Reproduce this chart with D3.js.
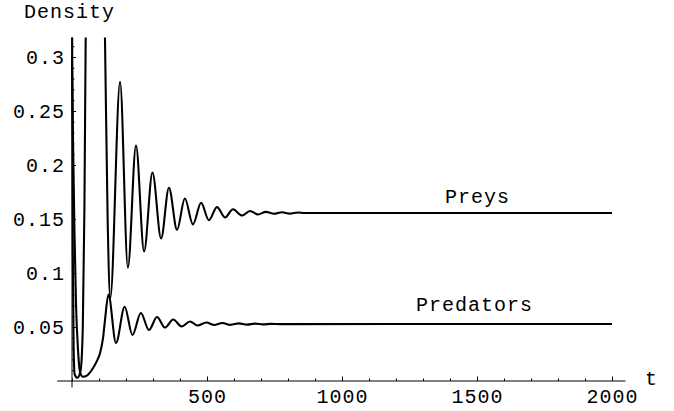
<!DOCTYPE html>
<html>
<head>
<meta charset="utf-8">
<script src="https://cdn.jsdelivr.net/npm/d3@7"></script>
<style>
  html, body { margin: 0; padding: 0; background: #fff; }
  svg { display: block; }
  text { font-family: "Liberation Mono", "DejaVu Sans Mono", monospace; font-size: 20px; letter-spacing: 1px; fill: #000; }
</style>
</head>
<body>
<div id="chart"></div>
<script>
// ---- data ----
const preyT = [0, 3, 6, 10, 20, 32, 40, 46, 52, 85, 122, 132, 142, 178, 207, 237, 267, 298, 330, 359, 389, 418, 448, 478, 507, 537, 567, 596, 630, 659, 689, 718, 748, 778, 807, 837, 860, 2000];
const preyV = [0.36, 0.12, 0.03, 0.006, 0.003, 0.01, 0.05, 0.16, 0.36, 0.75, 0.32, 0.15, 0.077, 0.277, 0.105, 0.218, 0.120, 0.193, 0.132, 0.179, 0.140, 0.169, 0.145, 0.165, 0.149, 0.161, 0.1514, 0.159, 0.1532, 0.1574, 0.1542, 0.1566, 0.1548, 0.1563, 0.1550, 0.1560, 0.1556, 0.1556];

const predT = [0, 4, 9, 15, 22, 30, 40, 55, 78, 95, 104, 115, 122, 135, 163, 195, 224, 255, 285, 315, 344, 375, 406, 437, 465, 498, 526, 557, 587, 618, 648, 678, 707, 738, 770, 2000];
const predV = [0.30, 0.22, 0.14, 0.07, 0.03, 0.008, 0.004, 0.005, 0.012, 0.02, 0.026, 0.04, 0.056, 0.080, 0.0352, 0.0688, 0.0426, 0.063, 0.0472, 0.0593, 0.0495, 0.0569, 0.0505, 0.0551, 0.0514, 0.0542, 0.0519, 0.0537, 0.0520, 0.0534, 0.0522, 0.0531, 0.0524, 0.0529, 0.0527, 0.0528];

const xTickValues = [500, 1000, 1500, 2000];
const xTickLabels = ["500", "1000", "1500", "2000"];
const yTickValues = [0.05, 0.1, 0.15, 0.2, 0.25, 0.3];
const yTickLabels = ["0.05", "0.1", "0.15", "0.2", "0.25", "0.3"];

const seriesNames = ["Preys", "Predators"];
const axisTitles = { x: "t", y: "Density" };

// ---- layout ----
const W = 674, H = 411;
const svg = d3.select("#chart").append("svg").attr("width", W).attr("height", H);

const x = d3.scaleLinear().domain([0, 2000]).range([72, 612]);
const y = d3.scaleLinear().domain([0, 0.3]).range([381, 57]);

// axis lines
svg.append("line")
  .attr("x1", x(-55)).attr("x2", x(2050))
  .attr("y1", y(0)).attr("y2", y(0))
  .attr("stroke", "#000").attr("stroke-width", 1);
svg.append("line")
  .attr("x1", x(0)).attr("x2", x(0))
  .attr("y1", y(-0.006)).attr("y2", y(0.318))
  .attr("stroke", "#000").attr("stroke-width", 1);

// x axis ticks
const xMinor = d3.range(0, 2001, 100).filter(v => !xTickValues.includes(v));
const gxMinor = svg.append("g").attr("transform", `translate(0,${y(0)})`)
  .call(d3.axisBottom(x).tickValues(xMinor).tickFormat("").tickSizeInner(-2.5).tickSizeOuter(0));
gxMinor.select(".domain").remove();
const gx = svg.append("g").attr("transform", `translate(0,${y(0)})`)
  .call(d3.axisBottom(x).tickValues(xTickValues).tickFormat((d, i) => xTickLabels[i])
    .tickSizeInner(-4.5).tickSizeOuter(0).tickPadding(8));
gx.select(".domain").remove();

// y axis ticks
const yMinor = d3.range(1, 32).map(i => i / 100).filter(v => v <= 0.315 && !yTickValues.some(t => Math.abs(t - v) < 1e-9));
const gyMinor = svg.append("g").attr("transform", `translate(${x(0)},0)`)
  .call(d3.axisLeft(y).tickValues(yMinor).tickFormat("").tickSizeInner(-2.5).tickSizeOuter(0));
gyMinor.select(".domain").remove();
const gy = svg.append("g").attr("transform", `translate(${x(0)},0)`)
  .call(d3.axisLeft(y).tickValues(yTickValues).tickFormat((d, i) => yTickLabels[i])
    .tickSizeInner(-4).tickSizeOuter(0).tickPadding(7));
gy.select(".domain").remove();

svg.selectAll(".tick line").attr("stroke", "#000").attr("stroke-width", 1);
svg.selectAll(".tick text")
  .style("font-family", '"Liberation Mono", monospace')
  .style("font-size", "20px").style("letter-spacing", "1px").attr("fill", "#000");

// axis titles
svg.append("text").attr("x", 645).attr("y", 385).text(axisTitles.x);
svg.append("text").attr("x", 24).attr("y", 18).text(axisTitles.y);

// clip for curves
svg.append("clipPath").attr("id", "plotclip")
  .append("rect").attr("x", x(-50)).attr("y", y(0.318))
  .attr("width", x(2050) - x(-50)).attr("height", y(-0.01) - y(0.318));

const line = d3.line().x(d => x(d[0])).y(d => y(d[1])).curve(d3.curveMonotoneX);
const preyData = preyT.map((t, i) => [t, preyV[i]]);
const predData = predT.map((t, i) => [t, predV[i]]);

const gc = svg.append("g").attr("clip-path", "url(#plotclip)");
[preyData, predData].forEach(dat => {
  gc.append("path").datum(dat)
    .attr("d", line)
    .attr("fill", "none").attr("stroke", "#000").attr("stroke-width", 2.1)
    .attr("stroke-linejoin", "round");
});

// series labels
svg.append("text").attr("x", 445).attr("y", 203).text(seriesNames[0]);
svg.append("text").attr("x", 416).attr("y", 311).text(seriesNames[1]);
</script>
</body>
</html>
